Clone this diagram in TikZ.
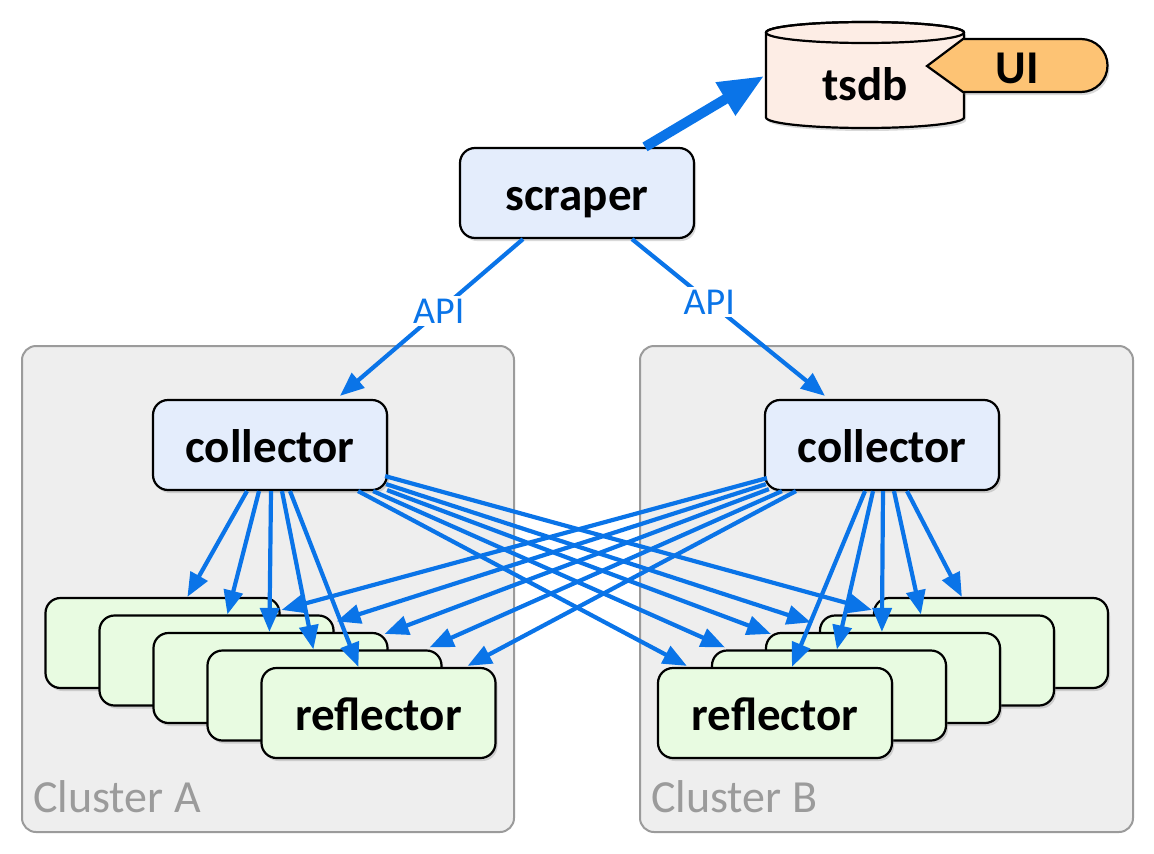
\documentclass[tikz,border=0pt]{standalone}
\usepackage{fontspec}
\setmainfont{Carlito}
\usetikzlibrary{arrows.meta,calc,shadows}
\definecolor{LinkBlue}{HTML}{0A74E8}
\definecolor{CompBlue}{HTML}{E4EDFC}
\definecolor{ReflGreen}{HTML}{E8FBE1}
\definecolor{ClusterGrey}{HTML}{EEEEEE}
\definecolor{ClusterLine}{HTML}{9B9B9B}
\definecolor{DbPink}{HTML}{FDEDE5}
\definecolor{UiOrange}{HTML}{FDC374}
\tikzset{
    softshadow/.style = {drop shadow={shadow xshift=2pt, shadow yshift=-3pt, opacity=0.3}},
    box/.style = {draw, rounded corners=15pt, line width=2.2pt,
        minimum width=234pt, minimum height=90pt,
        font=\fontsize{47}{50}\selectfont\bfseries,
        text height=36pt, text depth=2pt, softshadow},
    comp/.style = {box, fill=CompBlue},
    refl/.style = {box, fill=ReflGreen},
    plain/.style = {font=\fontsize{47}{50}\selectfont\bfseries,
        text height=36pt, text depth=2pt, inner sep=0pt},
    cluster/.style = {draw=ClusterLine, fill=ClusterGrey, line width=2pt, rounded corners=14pt},
    clustertext/.style = {anchor=west, text=ClusterLine, inner sep=0pt,
        font=\fontsize{46}{48}\selectfont},
    link/.style = {draw=LinkBlue, line width=4.2pt, -{Triangle[length=24pt,width=19pt]}},
    api/.style = {fill=white, text=LinkBlue, inner sep=3pt,
        font=\fontsize{38}{40}\selectfont}
}
\begin{document}
\begin{tikzpicture}[x=1pt,y=-1pt]
    \useasboundingbox (0,0) rectangle (1154,854);
    % clusters
    \path[cluster] (22,346) rectangle (514,832);
    \path[cluster] (640,346) rectangle (1133,832);
    \node[clustertext] (labA) at (33,797) {Cluster A};
    \node[clustertext] (labB) at (651,797) {Cluster B};
    % reflectors, back to front
    \node[refl] (ra1) at (162.5,643) {};
    \node[refl] (ra2) at (216.5,660.5) {};
    \node[refl] (ra3) at (270.5,678) {};
    \node[refl] (ra4) at (324.5,695.5) {};
    \node[refl] (ra5) at (378.5,713) {reflector};
    \node[refl] (rb1) at (991,643) {};
    \node[refl] (rb2) at (937,660.5) {};
    \node[refl] (rb3) at (883,678) {};
    \node[refl] (rb4) at (829,695.5) {};
    \node[refl] (rb5) at (775,713) {reflector};
    % components
    \node[comp] (scraper) at (577,193) {scraper};
    \node[comp] (colA) at (270,445) {collector};
    \node[comp] (colB) at (882,445) {collector};
    % collector A -> own reflectors
    \draw[link] ($(colA.south)+(-23,0)$) -- ($(ra1.north west)+(143,0)$);
    \draw[link] ($(colA.south)+(-11,0)$) -- ($(ra2.north west)+(129,0)$);
    \draw[link] ($(colA.south)+(1,0)$) -- ($(ra3.north west)+(117,0)$);
    \draw[link] ($(colA.south)+(12,0)$) -- ($(ra4.north west)+(107,0)$);
    \draw[link] ($(colA.south)+(20,0)$) -- ($(ra5.north west)+(98,0)$);
    % collector B -> own reflectors
    \draw[link] ($(colB.south)+(-17,0)$) -- ($(rb5.north west)+(135,0)$);
    \draw[link] ($(colB.south)+(-9,0)$) -- ($(rb4.north west)+(126,0)$);
    \draw[link] ($(colB.south)+(1,0)$) -- ($(rb3.north west)+(117,0)$);
    \draw[link] ($(colB.south)+(12,0)$) -- ($(rb2.north west)+(102,0)$);
    \draw[link] ($(colB.south)+(25,0)$) -- ($(rb1.north west)+(89,0)$);
    % collector A -> cluster B
    \draw[link] ($(colA.south east)+(-3,-15)$) -- ($(rb1.north west)+(-1,13)$);
    \draw[link] ($(colA.south east)+(-2,-7)$) -- ($(rb2.north west)+(-8,8)$);
    \draw[link] ($(colA.south east)+(-1,-1)$) -- ($(rb3.north west)+(6,2)$);
    \draw[link] ($(colA.south east)+(-15,0)$) -- ($(rb4.north west)+(14,-2)$);
    \draw[link] ($(colA.south east)+(-30,0)$) -- ($(rb5.north west)+(30,-1)$);
    % collector B -> cluster A
    \draw[link] ($(colB.south west)+(3,-13)$) -- ($(ra1.north east)+(1,13)$);
    \draw[link] ($(colB.south west)+(2,-7)$) -- ($(ra2.north east)+(2,7)$);
    \draw[link] ($(colB.south west)+(5,-2)$) -- ($(ra3.north east)+(-4,2)$);
    \draw[link] ($(colB.south west)+(18,0)$) -- ($(ra4.north east)+(-13,-2)$);
    \draw[link] ($(colB.south west)+(32,0)$) -- ($(ra5.north east)+(-29,-1)$);
    % scraper -> collectors
    \draw[link] ($(scraper.south)+(-54,0)$) -- node[api, pos=0.46] (apiA) {API} ($(colA.north)+(70,-3)$);
    \draw[link] ($(scraper.south)+(55,0)$) -- node[api, pos=0.4] (apiB) {API} ($(colB.north)+(-57,-3)$);
    % tsdb and UI
    \filldraw[fill=DbPink, line width=2.2pt, softshadow] (766,32.5) -- (766,117.5)
        arc[start angle=180, end angle=0, x radius=99, y radius=10.5] -- (964,32.5)
        arc[start angle=0, end angle=-180, x radius=99, y radius=10.5] -- cycle;
    \draw[line width=2.2pt] (865,32.5) ellipse [x radius=99, y radius=10.5];
    \node[plain] (tsdb) at (865,83) {tsdb};
    \filldraw[fill=UiOrange, line width=2.2pt, softshadow] (927,66) -- (963,39) -- (1081,39)
        arc[start angle=-90, end angle=90, radius=26.5] -- (963,92) -- cycle;
    \node[plain] (ui) at (1017,66) {UI};
    \draw[LinkBlue, line width=10pt, -{Triangle[length=45pt,width=36pt]}] ($(scraper.north)+(68,0)$) -- ($(tsdb.west)+(-58,-7)$);
\end{tikzpicture}
\end{document}
